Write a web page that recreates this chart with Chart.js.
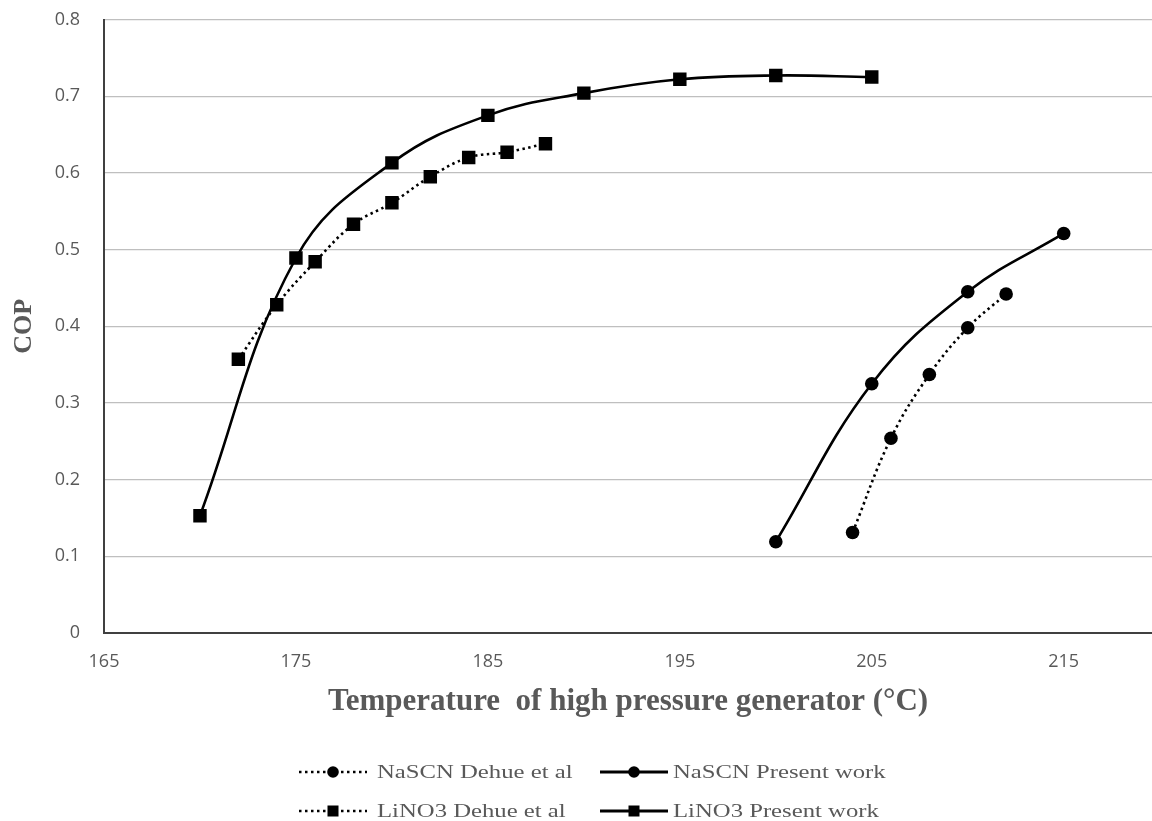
<!DOCTYPE html>
<html><head><meta charset="utf-8">
<script src="https://cdn.jsdelivr.net/npm/chart.js@4/dist/chart.umd.min.js"></script>
<style>
html,body{margin:0;padding:0;background:#fff;}
#wrap{position:relative;width:1152px;height:821px;overflow:hidden;background:#fff;}
#c{position:absolute;left:0;top:0;}
.mk{position:absolute;}
.lt{position:absolute;font-family:"Liberation Serif","Times New Roman",serif;font-size:19px;color:#595959;transform:scaleX(1.3);transform-origin:left center;white-space:nowrap;line-height:22px;}
</style></head><body>
<div id="wrap"><canvas id="c" width="1152" height="821"></canvas><div id="legend"></div></div>
<script>
// ---- data ----
const lino3PresentX = [170, 175, 180, 185, 190, 195, 200, 205];
const lino3PresentY = [0.153, 0.489, 0.613, 0.675, 0.704, 0.722, 0.727, 0.725];
const lino3DehueX = [172, 174, 176, 178, 180, 182, 184, 186, 188];
const lino3DehueY = [0.357, 0.428, 0.484, 0.533, 0.561, 0.595, 0.620, 0.627, 0.638];
const nascnPresentX = [200, 205, 210, 215];
const nascnPresentY = [0.119, 0.325, 0.445, 0.521];
const nascnDehueX = [204, 206, 208, 210, 212];
const nascnDehueY = [0.131, 0.254, 0.337, 0.398, 0.442];
const xTickValues = [165, 175, 185, 195, 205, 215];
const yTickValues = [0, 0.1, 0.2, 0.3, 0.4, 0.5, 0.6, 0.7, 0.8];
const seriesNames = ["NaSCN Dehue et al", "NaSCN Present work", "LiNO3 Dehue et al", "LiNO3 Present work"];

const pts = (xs, ys) => xs.map((x, i) => ({x: x, y: ys[i]}));
const DOT = [2.5, 3.5];

function ds(label, data, style, dotted) {
  return {
    label: label, data: data, showLine: true,
    borderColor: '#000', backgroundColor: '#000',
    borderWidth: 2.6, borderDash: dotted ? DOT : [],
    tension: 0.4,
    pointStyle: style, pointRadius: style === 'rect' ? 9.5 : 6.8,
    pointBorderWidth: 0, pointHoverRadius: 0
  };
}

const grey = '#595959';
new Chart(document.getElementById('c'), {
  type: 'scatter',
  data: {
    datasets: [
      ds(seriesNames[0], pts(nascnDehueX, nascnDehueY), 'circle', true),
      ds(seriesNames[1], pts(nascnPresentX, nascnPresentY), 'circle', false),
      ds(seriesNames[2], pts(lino3DehueX, lino3DehueY), 'rect', true),
      ds(seriesNames[3], pts(lino3PresentX, lino3PresentY), 'rect', false)
    ]
  },
  options: {
    responsive: false, animation: false, devicePixelRatio: 1,
    layout: {autoPadding: false, padding: {top: 19.5, right: 0, bottom: 88, left: 0}},
    plugins: {legend: {display: false}, tooltip: {enabled: false}},
    scales: {
      x: {
        type: 'linear', min: 165, max: 219.6,
        afterBuildTicks: s => { s.ticks = xTickValues.map(v => ({value: v})); },
        afterFit: s => { s.height = 100; s.paddingLeft = 0; s.paddingRight = 0; },
        grid: {display: false, drawTicks: false},
        border: {display: true, color: '#404040', width: 2},
        ticks: {color: grey, font: {family: 'Open Sans', size: 18}, padding: 18, maxRotation: 0},
        title: {display: true, text: 'Temperature  of high pressure generator (°C)', color: grey,
          font: {family: 'Liberation Serif', size: 31, weight: 'bold'}, padding: {top: 0, bottom: 12}}
      },
      y: {
        type: 'linear', min: 0, max: 0.8,
        afterBuildTicks: s => { s.ticks = yTickValues.map(v => ({value: v})); },
        afterFit: s => { s.width = 104; s.paddingTop = 0; s.paddingBottom = 0; },
        grid: {color: '#bfbfbf', lineWidth: 1.3, drawTicks: false},
        border: {display: true, color: '#404040', width: 2},
        ticks: {color: grey, font: {family: 'Open Sans', size: 18}, padding: 24,
          callback: v => String(Math.round(v * 10) / 10)},
        title: {display: true, text: 'COP', color: grey,
          font: {family: 'Liberation Serif', size: 26, weight: 'bold'}, padding: {top: 9, bottom: 0}}
      }
    }
  }
});

// ---- legend (HTML, real text) ----
const legendItems = [
  {name: seriesNames[0], shape: 'circle', dotted: true, lx: 299, tx: 377, cy: 772},
  {name: seriesNames[1], shape: 'circle', dotted: false, lx: 600, tx: 673, cy: 772},
  {name: seriesNames[2], shape: 'rect', dotted: true, lx: 299, tx: 377, cy: 811},
  {name: seriesNames[3], shape: 'rect', dotted: false, lx: 600, tx: 673, cy: 811}
];
const L = document.getElementById('legend');
legendItems.forEach(it => {
  const w = 68, h = 16;
  const marker = it.shape === 'circle'
    ? `<circle cx="${w/2}" cy="${h/2}" r="5.8" fill="#000"/>`
    : `<rect x="${w/2-5.5}" y="${h/2-5.5}" width="11" height="11" fill="#000"/>`;
  const dash = it.dotted ? 'stroke-dasharray="2.5 3.5"' : '';
  const svg = `<svg class="mk" width="${w}" height="${h}" style="left:${it.lx}px;top:${it.cy - h/2}px">
    <line x1="0" y1="${h/2}" x2="${w}" y2="${h/2}" stroke="#000" stroke-width="${it.dotted ? 2.5 : 2.8}" ${dash}/>${marker}</svg>`;
  L.insertAdjacentHTML('beforeend', svg);
  const t = document.createElement('div');
  t.className = 'lt';
  t.textContent = it.name;
  t.style.left = it.tx + 'px';
  t.style.top = (it.cy - 11) + 'px';
  L.appendChild(t);
});
</script>
</body></html>
